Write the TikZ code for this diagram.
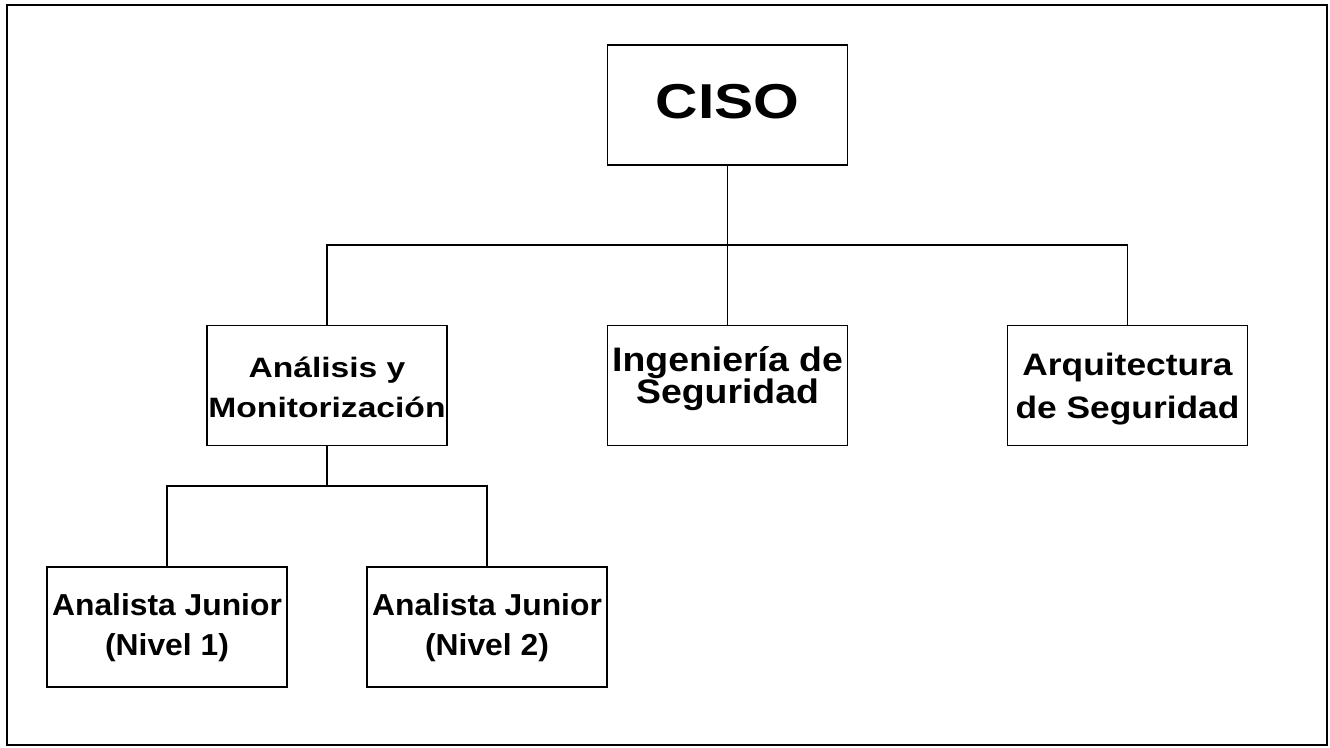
\documentclass[tikz,border=0pt]{standalone}
\usepackage{fontspec}
\setmainfont{Liberation Sans}
\newfontfamily\fstA[FakeStretch=1.2]{Liberation Sans}
\newfontfamily\fstB[FakeStretch=1.1]{Liberation Sans}
\newfontfamily\fstC[FakeStretch=1.14]{Liberation Sans}
\newfontfamily\fstD[FakeStretch=1.05]{Liberation Sans}
\newcommand\mystrut[2]{\rule[-#2]{0pt}{\dimexpr#1+#2\relax}}
\lineskiplimit=-200pt
\begin{document}
\begin{tikzpicture}[x=1pt,y=-1pt,
  box/.style={draw=black,line width=1.8pt,minimum width=240pt,minimum height=120pt,inner sep=0pt,align=center},
  conn/.style={draw=black,line width=1.8pt}]
\path[use as bounding box,fill=white] (0,0) rectangle (1330,747);
\draw[line width=2.2pt,black] (7,5) rectangle (1327,745);
\node[box,font=\fstA\bfseries\fontsize{49}{49}\selectfont] (ciso) at (727.5,105) {\mystrut{40pt}{14pt}CISO};
\node[box,font=\fstA\bfseries\fontsize{28}{40}\selectfont] (ana) at (327,385.5) {\mystrut{30pt}{0pt}Análisis y\\Monitorización\mystrut{0pt}{7pt}};
\node[box,font=\fstB\bfseries\fontsize{34}{31.5}\selectfont] (ing) at (727.5,385.5) {\mystrut{28pt}{0pt}Ingeniería de\\Seguridad\mystrut{0pt}{24.5pt}};
\node[box,font=\fstC\bfseries\fontsize{31}{43}\selectfont] (arq) at (1127.5,385.5) {\mystrut{30pt}{0pt}Arquitectura\\de Seguridad\mystrut{0pt}{8pt}};
\node[box,font=\fstD\bfseries\fontsize{30.3}{40}\selectfont] (j1) at (167,627) {\mystrut{30pt}{0pt}Analista Junior\\(Nivel 1)\mystrut{0pt}{14pt}};
\node[box,font=\fstD\bfseries\fontsize{30.3}{40}\selectfont] (j2) at (487,627) {\mystrut{30pt}{0pt}Analista Junior\\(Nivel 2)\mystrut{0pt}{14pt}};
\coordinate (h1) at (727.5,245);
\coordinate (h2) at (327,486);
\draw[conn] (ciso.south) -- (ing.north);
\draw[conn] (ana.north) |- (h1) -| (arq.north);
\draw[conn] (ana.south) -- (h2);
\draw[conn] (j1.north) |- (h2) -| (j2.north);
\end{tikzpicture}
\end{document}
